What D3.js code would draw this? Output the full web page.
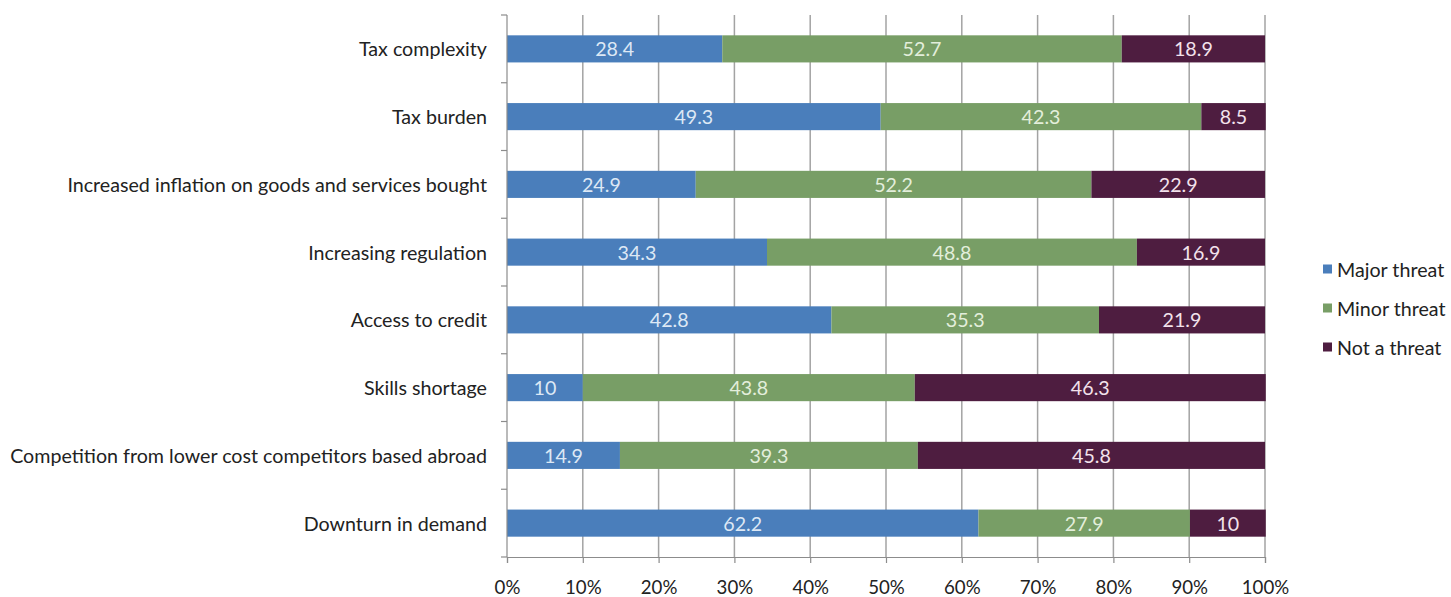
<!DOCTYPE html>
<html>
<head>
<meta charset="utf-8">
<script src="https://cdn.jsdelivr.net/npm/d3@7"></script>
<style>
  html, body { margin: 0; padding: 0; background: #fff; }
  svg { display: block; font-family: Lato, "Open Sans", sans-serif; }
</style>
</head>
<body>
<svg id="chart" width="1451" height="597"></svg>
<script>
// Perceived threats to business, share of respondents (%)
const categories = [
  "Tax complexity",
  "Tax burden",
  "Increased inflation on goods and services bought",
  "Increasing regulation",
  "Access to credit",
  "Skills shortage",
  "Competition from lower cost competitors based abroad",
  "Downturn in demand"
];
const seriesNames = ["Major threat", "Minor threat", "Not a threat"];
const majorThreat = [28.4, 49.3, 24.9, 34.3, 42.8, 10, 14.9, 62.2];
const minorThreat = [52.7, 42.3, 52.2, 48.8, 35.3, 43.8, 39.3, 27.9];
const notAThreat  = [18.9, 8.5, 22.9, 16.9, 21.9, 46.3, 45.8, 10];
const xTickValues = [0, 10, 20, 30, 40, 50, 60, 70, 80, 90, 100];

const colors = ["#4a7ebb", "#789e66", "#4e1d40"];
const labelColors = ["#dde8f5", "#e3eedb", "#f3e2ec"];
const textColor = "#222";

const svg = d3.select("#chart");
const plot = { left: 507, right: 1265, top: 15, bottom: 557 };

const x = d3.scaleLinear().domain([0, 100]).range([plot.left, plot.right]);
const y = d3.scaleBand().domain(categories)
  .range([plot.top, plot.bottom]).paddingInner(0.6).paddingOuter(0.3);

// Font size chosen so the longest category label spans the left margin
const probe = svg.append("text").attr("font-size", 20)
  .text(categories[6]);
const probeWidth = probe.node().getComputedTextLength();
probe.remove();
const fontSize = 20 * 477 / probeWidth;

// Rows -> stacked percentages
const rows = categories.map((c, i) => ({
  category: c,
  "Major threat": majorThreat[i],
  "Minor threat": minorThreat[i],
  "Not a threat": notAThreat[i]
}));
const stacked = d3.stack().keys(seriesNames)(rows);

// Vertical gridlines
svg.append("g")
  .selectAll("line")
  .data(xTickValues.slice(1))
  .join("line")
  .attr("x1", d => x(d)).attr("x2", d => x(d))
  .attr("y1", plot.top).attr("y2", plot.bottom)
  .attr("stroke", "#a3a3a3").attr("stroke-width", 1.5);

// Bars
const layers = svg.append("g")
  .selectAll("g")
  .data(stacked)
  .join("g")
  .attr("fill", (d, i) => colors[i]);

layers.selectAll("rect")
  .data(d => d)
  .join("rect")
  .attr("x", d => x(d[0]))
  .attr("width", d => x(d[1]) - x(d[0]))
  .attr("y", d => y(d.data.category))
  .attr("height", y.bandwidth());

// Value labels centred in each segment
svg.append("g")
  .selectAll("g")
  .data(stacked)
  .join("g")
  .attr("fill", (d, i) => labelColors[i])
  .selectAll("text")
  .data(d => d.map(s => ({ s, key: d.key })))
  .join("text")
  .attr("x", d => x((d.s[0] + d.s[1]) / 2))
  .attr("y", d => y(d.s.data.category) + y.bandwidth() / 2)
  .attr("text-anchor", "middle")
  .attr("dominant-baseline", "central")
  .attr("font-size", fontSize)
  .text(d => d.s.data[d.key]);

// X axis
const xAxis = svg.append("g")
  .attr("transform", `translate(0,${plot.bottom})`)
  .call(d3.axisBottom(x).tickValues(xTickValues).tickFormat(d => d + "%").tickSize(6).tickPadding(18));
xAxis.select(".domain").attr("stroke", "#8c8c8c").attr("stroke-width", 1.2);
xAxis.selectAll(".tick line").attr("stroke", "#8c8c8c").attr("stroke-width", 1.2);
xAxis.selectAll("text").attr("font-size", fontSize * 0.95).attr("fill", textColor)
  .attr("font-family", "Lato, sans-serif");

// Y axis line and category separators
const yAxisG = svg.append("g");
yAxisG.append("line")
  .attr("x1", plot.left).attr("x2", plot.left)
  .attr("y1", plot.top).attr("y2", plot.bottom)
  .attr("stroke", "#8c8c8c").attr("stroke-width", 1.2);
const boundaries = categories.map(c => y(c) - y.step() * y.paddingInner() / 2);
boundaries.push(plot.bottom);
boundaries[0] = plot.top;
yAxisG.selectAll("line.sep")
  .data(boundaries)
  .join("line")
  .attr("class", "sep")
  .attr("x1", plot.left - 6).attr("x2", plot.left)
  .attr("y1", d => d).attr("y2", d => d)
  .attr("stroke", "#8c8c8c").attr("stroke-width", 1.2);

// Category labels
yAxisG.selectAll("text")
  .data(categories)
  .join("text")
  .attr("x", plot.left - 20)
  .attr("y", d => y(d) + y.bandwidth() / 2)
  .attr("text-anchor", "end")
  .attr("dominant-baseline", "central")
  .attr("font-size", fontSize)
  .attr("fill", textColor)
  .text(d => d);

// Legend
const legend = svg.append("g").attr("transform", "translate(1323,0)");
const legendY = [269, 308, 347];
seriesNames.forEach((name, i) => {
  legend.append("rect")
    .attr("x", 0).attr("y", legendY[i] - 4.5)
    .attr("width", 9).attr("height", 9)
    .attr("fill", colors[i]);
  legend.append("text")
    .attr("x", 14).attr("y", legendY[i])
    .attr("dominant-baseline", "central")
    .attr("font-size", fontSize)
    .attr("fill", textColor)
    .text(name);
});
</script>
</body>
</html>
